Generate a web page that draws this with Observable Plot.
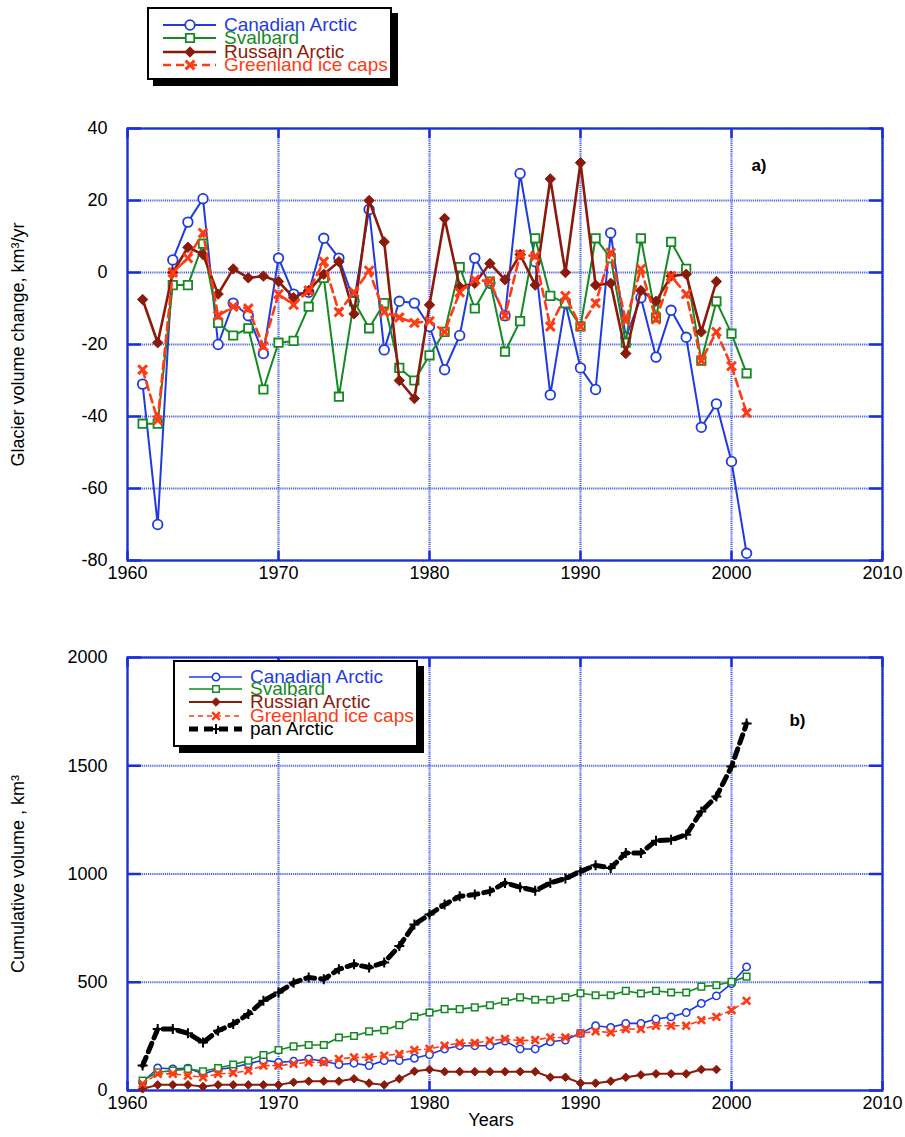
<!DOCTYPE html>
<html>
<head>
<meta charset="utf-8">
<script src="https://cdn.jsdelivr.net/npm/d3@7"></script>
<script src="https://cdn.jsdelivr.net/npm/@observablehq/plot@0.6"></script>
<style>
  body { margin: 0; background: #fff; font-family: "Liberation Sans", Arial, Helvetica, sans-serif; }
  #fig { position: relative; width: 905px; height: 1137px; overflow: hidden; background: #fff; }
  .panel { position: absolute; left: 0; }
  .legend { position: absolute; background: #fff; border: 2px solid #000; box-shadow: 6px 6px 0 #000; box-sizing: border-box; }
  .legend .sample { position: absolute; overflow: visible; }
  .legend .lab { position: absolute; font-size: 19px; line-height: 20px; height: 20px; white-space: nowrap; }
</style>
</head>
<body>
<div id="fig"></div>
<script>
// ---- data -------------------------------------------------------------
const years = [1961, 1962, 1963, 1964, 1965, 1966, 1967, 1968, 1969, 1970,
               1971, 1972, 1973, 1974, 1975, 1976, 1977, 1978, 1979, 1980,
               1981, 1982, 1983, 1984, 1985, 1986, 1987, 1988, 1989, 1990,
               1991, 1992, 1993, 1994, 1995, 1996, 1997, 1998, 1999, 2000, 2001];

// annual glacier volume change, km3/yr (panel a)
const canadianAnnual = [-31, -70, 3.5, 14, 20.5, -20, -8.5, -12, -22.5, 4,
                        -6, -5.5, 9.5, 4, -8, 17.5, -21.5, -8, -8.5, -15,
                        -27, -17.5, 4, -3, -12, 27.5, 3, -34, -8.5, -26.5,
                        -32.5, 11, -18, -7, -23.5, -10.5, -18, -43, -36.5, -52.5, -78];
const svalbardAnnual = [-42, -42, -3.5, -3.5, 8, -14, -17.5, -15.5, -32.5, -19.5,
                        -19, -9.5, -1.5, -34.5, -8, -15.5, -8.5, -26.5, -30, -23,
                        -16.5, 1.5, -10, -2.5, -22, -13.5, 9.5, -6.5, -8.5, -15,
                        9.5, 4, -19.5, 9.5, -12.5, 8.5, 1, -24.5, -8, -17, -28];
const russianAnnual = [-7.5, -19.5, 0, 7, 5, -6, 1, -1.5, -1, -2.5,
                       -7, -5, -0.5, 3, -11.5, 20, 8.5, -30, -35, -9,
                       15, -4, -3, 2.5, -2, 5, -3.5, 26, 0, 30.5,
                       -3.5, -3, -22.5, -5, -8, -1, -0.5, -16.5, -2.5];
const greenlandAnnual = [-27, -41, 0, 4, 11, -12, -9.5, -10, -20.5, -6,
                         -9, -5, 3, -11, -5.5, 0.5, -11, -12.5, -14, -13.5,
                         -16.5, -5.5, -2, -2.5, -12, 5, 4.5, -15, -6.5, -15,
                         -8.5, 5.5, -13.5, 1, -13, -1, -6, -24.5, -16.5, -26, -39];

// cumulative volume, km3 (panel b)
const canadianCum = [38, 104, 100, 103, 77, 97, 107, 123, 141, 130,
                     135, 146, 135, 120, 126, 115, 138, 138, 149, 166,
                     192, 207, 207, 207, 228, 192, 192, 225, 233, 264,
                     299, 291, 310, 310, 330, 340, 360, 402, 437, 494, 571];
const svalbardCum = [46, 84, 92, 100, 89, 104, 120, 138, 164, 187,
                     204, 210, 210, 245, 252, 273, 279, 302, 342, 360,
                     376, 376, 384, 394, 411, 430, 419, 419, 430, 449,
                     440, 440, 460, 448, 460, 453, 453, 480, 486, 502, 526];
const russianCum = [8, 26, 26, 26, 18, 26, 26, 26, 26, 26,
                    38, 43, 43, 43, 54, 34, 26, 54, 89, 97,
                    87, 87, 87, 87, 87, 87, 87, 61, 61, 34,
                    34, 43, 61, 72, 77, 77, 77, 97, 97];
const greenlandCum = [31, 77, 77, 69, 61, 77, 81, 92, 115, 115,
                      123, 130, 130, 146, 153, 153, 161, 169, 187, 192,
                      207, 219, 219, 230, 238, 230, 233, 245, 245, 264,
                      273, 268, 284, 284, 299, 299, 299, 325, 340, 371, 414];
const panArcticCum = [115, 284, 284, 264, 222, 276, 307, 353, 414, 453,
                      498, 522, 514, 560, 583, 568, 591, 667, 767, 813,
                      859, 897, 905, 920, 959, 939, 923, 959, 979, 1012,
                      1040, 1028, 1097, 1097, 1154, 1158, 1181, 1289, 1358, 1496, 1695];

const xTicks = [1960, 1970, 1980, 1990, 2000, 2010];
const annualTicks = [-80, -60, -40, -20, 0, 20, 40];
const cumTicks = [0, 500, 1000, 1500, 2000];

const namesA = ["Canadian Arctic", "Svalbard", "Russain Arctic", "Greenland ice caps"];
const namesB = ["Canadian Arctic", "Svalbard", "Russian Arctic", "Greenland ice caps", "pan Arctic"];

// ---- styling ----------------------------------------------------------
const FONT = '"Liberation Sans", Arial, Helvetica, sans-serif';
const FRAME = "#1b2fd6";
const GRID = "#4f63e4";
const COL = { canadian: "#1f3be0", svalbard: "#168a22", russian: "#8a1b0b", greenland: "#ff3b14", pan: "#000000" };

// marker shapes, sized by the radius Plot hands over (size = PI r^2)
const rad = s => Math.sqrt(s / Math.PI);
const SYM = {
  circle:  { draw(c, s) { const r = rad(s); c.moveTo(r, 0); c.arc(0, 0, r, 0, 2 * Math.PI); c.closePath(); } },
  square:  { draw(c, s) { const r = rad(s); c.rect(-r, -r, 2 * r, 2 * r); } },
  diamond: { draw(c, s) { const r = rad(s); c.moveTo(0, -r); c.lineTo(r, 0); c.lineTo(0, r); c.lineTo(-r, 0); c.closePath(); } },
  times:   { draw(c, s) { const r = rad(s); c.moveTo(-r, -r); c.lineTo(r, r); c.moveTo(r, -r); c.lineTo(-r, r); } },
  plus:    { draw(c, s) { const r = rad(s); c.moveTo(-r, 0); c.lineTo(r, 0); c.moveTo(0, -r); c.lineTo(0, r); } }
};

const table = arr => arr.map((v, i) => ({ year: years[i], value: v }));

// per-series drawing style for each panel
const styleA = [
  { key: "canadian",  line: { strokeWidth: 2 },   dot: { symbol: SYM.circle,  r: 4.8, fill: "white", strokeWidth: 1.8 } },
  { key: "svalbard",  line: { strokeWidth: 2 },   dot: { symbol: SYM.square,  r: 4.2, fill: "white", strokeWidth: 1.8 } },
  { key: "russian",   line: { strokeWidth: 2.6 }, dot: { symbol: SYM.diamond, r: 5.2, fillSame: true, strokeWidth: 1 } },
  { key: "greenland", line: { strokeWidth: 2.6, strokeDasharray: "8,5" }, dot: { symbol: SYM.times, r: 4.4, fill: "none", strokeWidth: 3 } }
];
const styleB = [
  { key: "canadian",  line: { strokeWidth: 1.6 }, dot: { symbol: SYM.circle,  r: 3.7, fill: "white", strokeWidth: 1.5 } },
  { key: "svalbard",  line: { strokeWidth: 1.6 }, dot: { symbol: SYM.square,  r: 3.3, fill: "white", strokeWidth: 1.5 } },
  { key: "russian",   line: { strokeWidth: 2 },   dot: { symbol: SYM.diamond, r: 4.3, fillSame: true, strokeWidth: 1 } },
  { key: "greenland", line: { strokeWidth: 1.6, strokeDasharray: "5,4" }, dot: { symbol: SYM.times, r: 3.8, fill: "none", strokeWidth: 2.6 } },
  { key: "pan",       line: { strokeWidth: 5, strokeDasharray: "9,6" }, dot: { symbol: SYM.plus, r: 5, fill: "none", strokeWidth: 2 } }
];

function seriesMarks(data, st) {
  const color = COL[st.key];
  const { fillSame, ...dot } = st.dot;
  return [
    Plot.line(data, { x: "year", y: "value", stroke: color, ...st.line }),
    Plot.dot(data, { x: "year", y: "value", stroke: color, ...(fillSame ? { fill: color } : {}), ...dot })
  ];
}

function frameMarks(yTicks) {
  const tick = { stroke: FRAME, strokeWidth: 2.5, tickSize: -14, tickFormat: () => "", label: null };
  const grid = { stroke: GRID, strokeOpacity: 1, strokeWidth: 2.2, strokeDasharray: "1.2,0.9" };
  return [
    Plot.gridX(xTicks, grid),
    Plot.gridY(yTicks, grid),
    Plot.frame({ stroke: FRAME, strokeWidth: 2.2 }),
    Plot.axisY(yTicks, { anchor: "left", ...tick }),
    Plot.axisY(yTicks, { anchor: "right", ...tick }),
    Plot.axisX(xTicks, { anchor: "bottom", ...tick, tickSize: -9 }),
    Plot.axisX(xTicks, { anchor: "top", ...tick, tickSize: -9 }),
    Plot.axisX(xTicks, { anchor: "bottom", tickSize: 0, tickPadding: 6, tickFormat: d => String(d), label: null })
  ];
}

const fig = document.getElementById("fig");

// ---- panel a: annual change --------------------------------------------
const seriesA = [canadianAnnual, svalbardAnnual, russianAnnual, greenlandAnnual];
const plotA = Plot.plot({
  width: 905, height: 500,
  marginLeft: 127, marginRight: 23, marginTop: 28, marginBottom: 40,
  style: { fontFamily: FONT, fontSize: "18px", color: "#000", background: "transparent", overflow: "visible" },
  x: { domain: [1960, 2010], axis: null },
  y: { domain: [-80, 40], axis: null },
  marks: [
    ...frameMarks(annualTicks),
    Plot.axisY(annualTicks, { anchor: "left", tickSize: 0, tickPadding: 20, tickFormat: d => String(d),
      label: "Glacier volume change, km³/yr", labelAnchor: "center", labelArrow: "none", labelOffset: 116 }),
    ...seriesA.flatMap((arr, i) => seriesMarks(table(arr), styleA[i])),
    Plot.text(["a)"], { text: d => d, frameAnchor: "top-right", dx: -116, dy: 30, fontWeight: "bold", fontSize: 17 })
  ]
});
plotA.classList.add("panel");
plotA.style.top = "100px";
fig.appendChild(plotA);

// ---- panel b: cumulative volume -----------------------------------------
const seriesB = [canadianCum, svalbardCum, russianCum, greenlandCum, panArcticCum];
const plotB = Plot.plot({
  width: 905, height: 517,
  marginLeft: 127, marginRight: 23, marginTop: 37, marginBottom: 47,
  style: { fontFamily: FONT, fontSize: "18px", color: "#000", background: "transparent", overflow: "visible" },
  x: { domain: [1960, 2010], axis: null },
  y: { domain: [0, 2000], axis: null },
  marks: [
    ...frameMarks(cumTicks),
    Plot.axisY(cumTicks, { anchor: "left", tickSize: 0, tickPadding: 20, tickFormat: d => String(d),
      label: "Cumulative volume , km³", labelAnchor: "center", labelArrow: "none", labelOffset: 116 }),
    ...seriesB.flatMap((arr, i) => seriesMarks(table(arr), styleB[i])),
    Plot.text(["b)"], { text: d => d, frameAnchor: "top-right", dx: -77, dy: 56, fontWeight: "bold", fontSize: 17 }),
    Plot.text(["Years"], { text: d => d, frameAnchor: "bottom", dx: -14, dy: 35, fontSize: 18 })
  ]
});
plotB.classList.add("panel");
plotB.style.top = "620px";
fig.appendChild(plotB);

// ---- legends -------------------------------------------------------------
function legend(box, rows, names, styles) {
  const div = document.createElement("div");
  div.className = "legend";
  Object.assign(div.style, { left: box.left + "px", top: box.top + "px", width: box.width + "px", height: box.height + "px" });
  names.forEach((name, i) => {
    const st = styles[i], color = COL[st.key], cy = rows[i];
    const svg = d3.create("svg").attr("class", "sample").attr("width", 70).attr("height", 20)
      .style("left", "12px").style("top", (cy - 10) + "px");
    svg.append("line").attr("x1", 2).attr("x2", 55).attr("y1", 10).attr("y2", 10)
      .attr("stroke", color).attr("stroke-width", st.line.strokeWidth)
      .attr("stroke-dasharray", st.line.strokeDasharray || null);
    const r = st.dot.r;
    svg.append("path").attr("transform", "translate(29,10)")
      .attr("d", d3.symbol(st.dot.symbol, Math.PI * r * r)())
      .attr("stroke", color).attr("stroke-width", st.dot.strokeWidth)
      .attr("fill", st.dot.fillSame ? color : st.dot.fill);
    div.appendChild(svg.node());
    const lab = document.createElement("div");
    lab.className = "lab";
    lab.textContent = name;
    Object.assign(lab.style, { left: "75px", top: (cy - 10) + "px", color: color });
    div.appendChild(lab);
  });
  fig.appendChild(div);
}

legend({ left: 147, top: 7, width: 245, height: 73 }, [16, 29, 43, 56], namesA, styleA);
legend({ left: 173, top: 660, width: 245, height: 87 }, [15, 27, 40, 54, 67], namesB, styleB);
</script>
</body>
</html>
